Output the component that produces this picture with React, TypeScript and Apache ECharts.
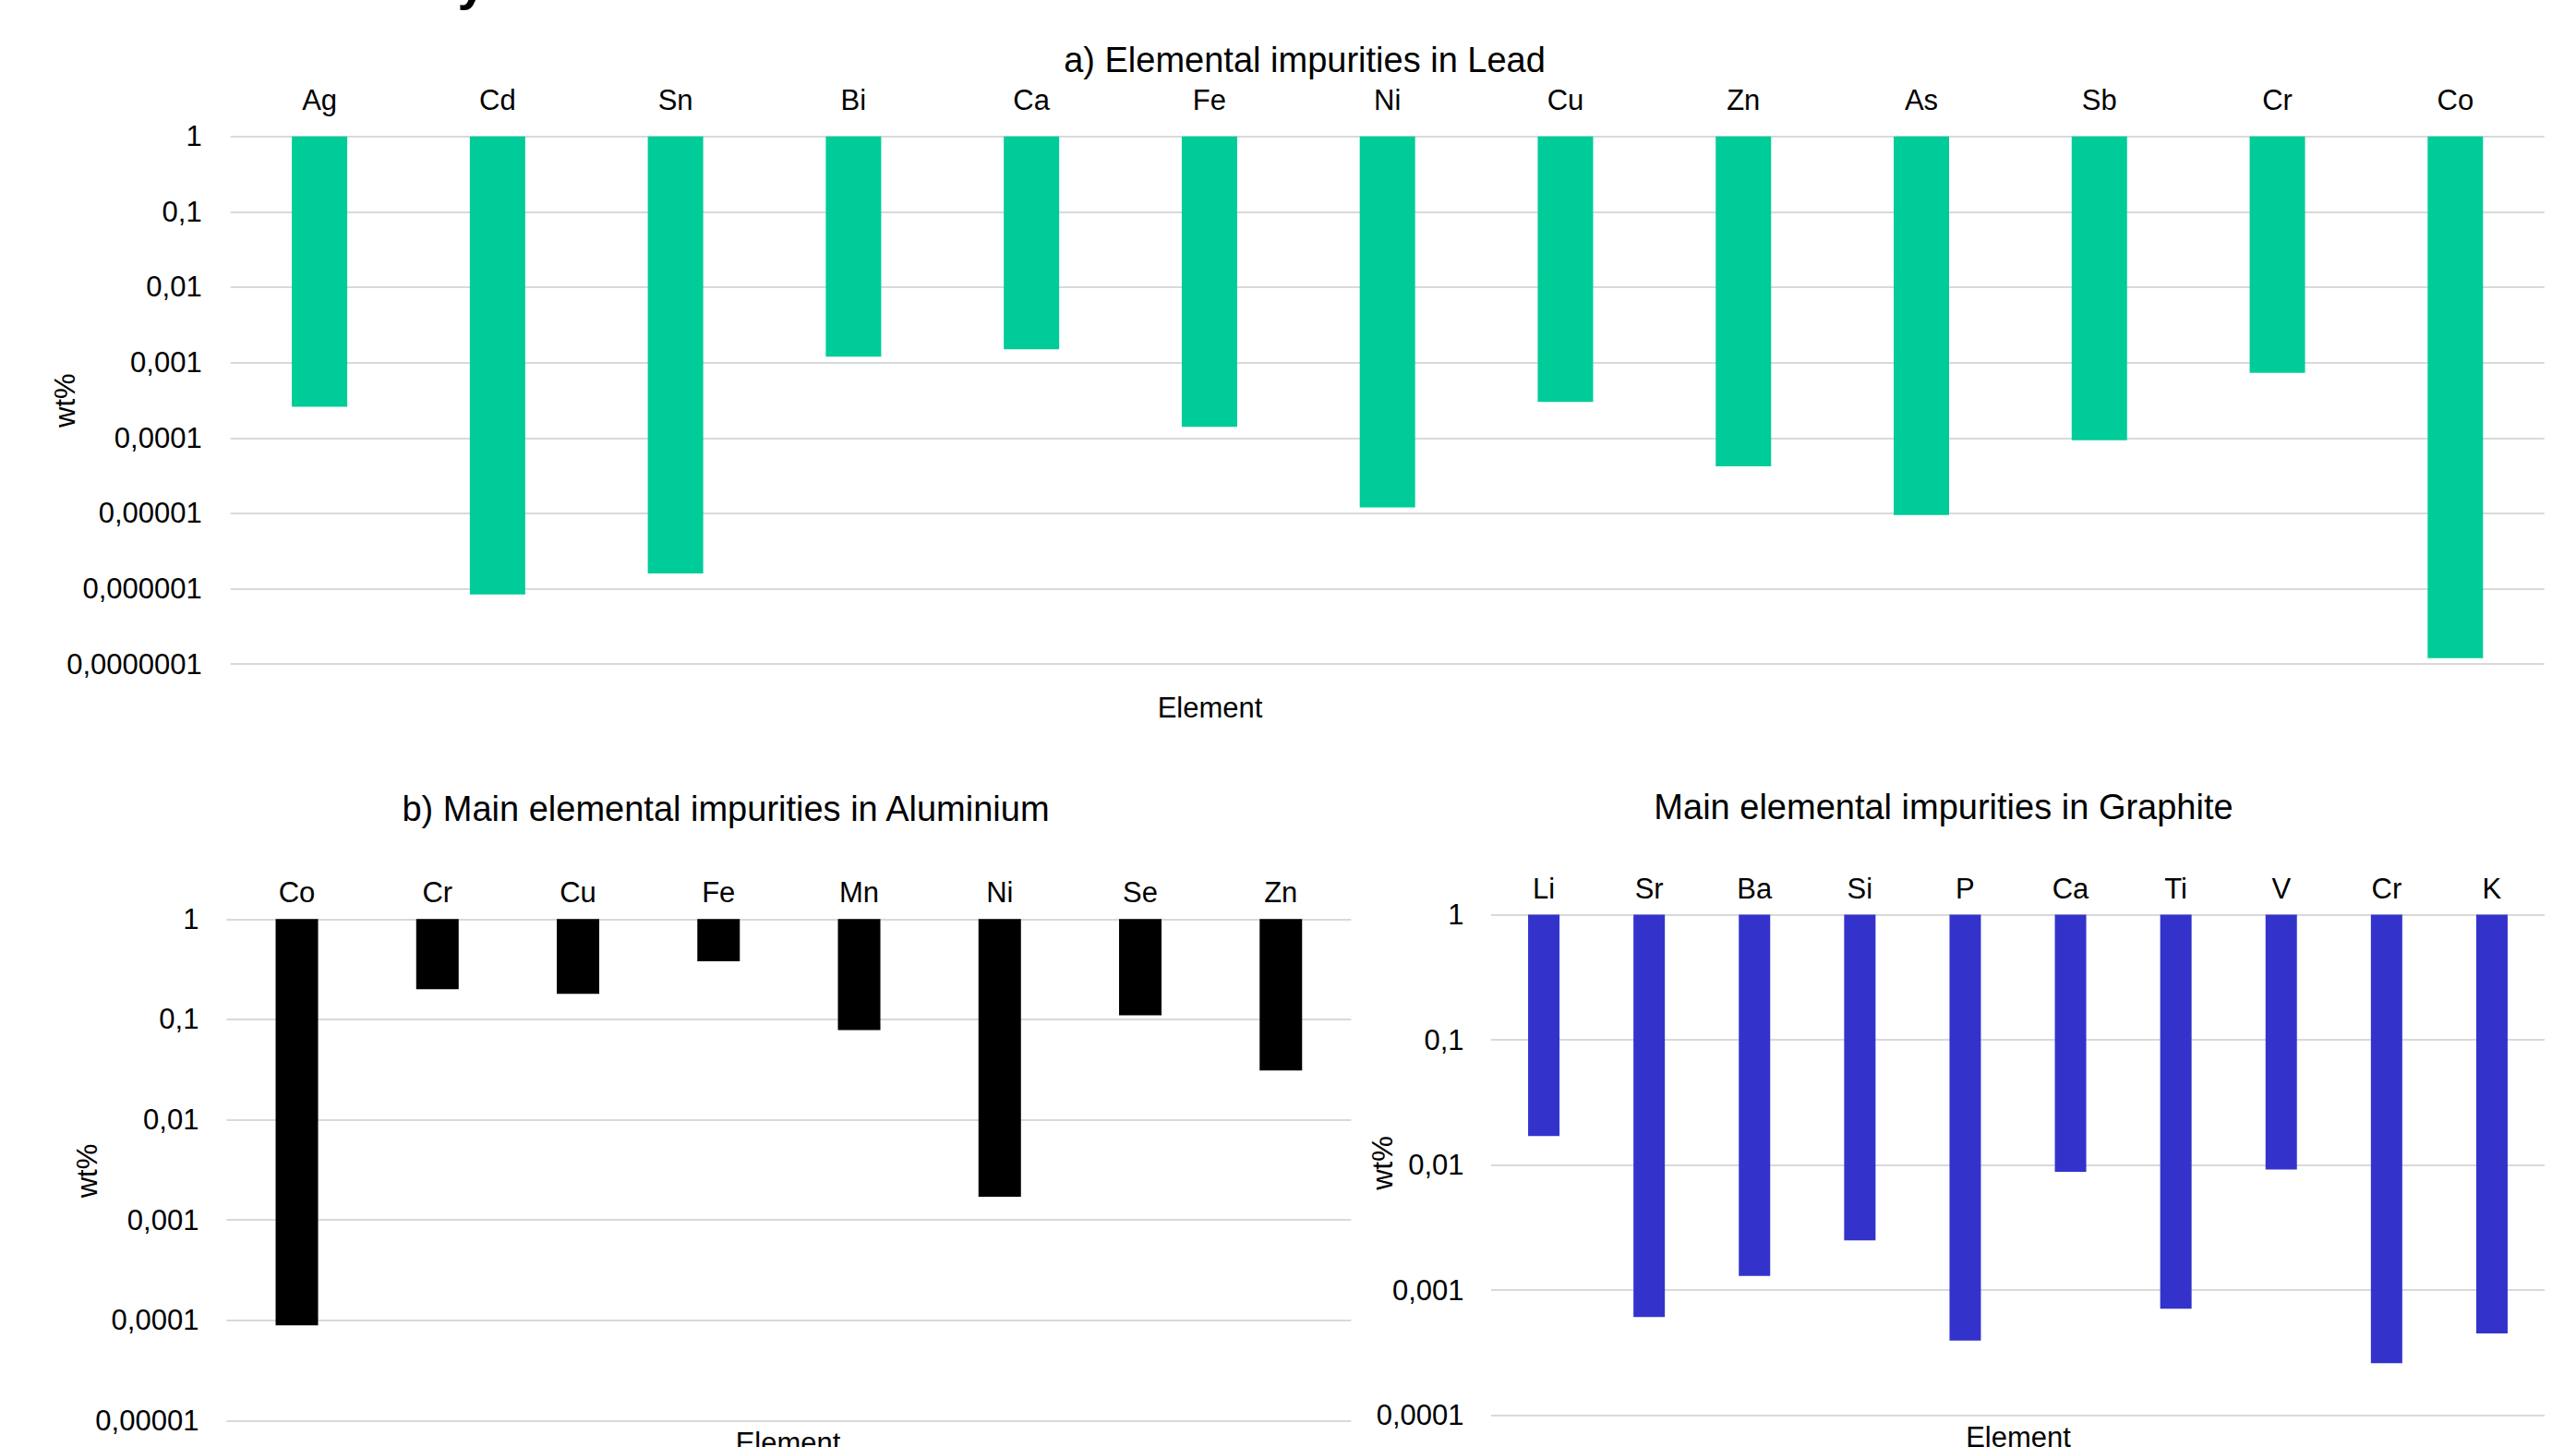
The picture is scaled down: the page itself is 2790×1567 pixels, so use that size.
import React, { useEffect, useRef } from "react";
import * as echarts from "echarts";

const leadElements = ["Ag", "Cd", "Sn", "Bi", "Ca", "Fe", "Ni", "Cu", "Zn", "As", "Sb", "Cr", "Co"];
const leadValues = [2.6e-4, 8.4e-7, 1.6e-6, 1.2e-3, 1.5e-3, 1.4e-4, 1.2e-5, 3.0e-4, 4.2e-5, 9.5e-6, 9.3e-5, 7.3e-4, 1.2e-7];

const aluminiumElements = ["Co", "Cr", "Cu", "Fe", "Mn", "Ni", "Se", "Zn"];
const aluminiumValues = [8.9e-5, 0.2, 0.18, 0.38, 0.078, 1.7e-3, 0.11, 0.031];

const graphiteElements = ["Li", "Sr", "Ba", "Si", "P", "Ca", "Ti", "V", "Cr", "K"];
const graphiteValues = [0.017, 6.1e-4, 1.3e-3, 2.5e-3, 3.95e-4, 8.8e-3, 7.1e-4, 9.2e-3, 2.6e-4, 4.5e-4];

const titles = [
  "a) Elemental impurities in Lead",
  "b) Main elemental impurities in Aluminium",
  "Main elemental impurities in Graphite",
];
const xAxisName = "Element";
const yAxisName = "wt%";

const FONT = "'Liberation Sans', Arial, Helvetica, sans-serif";

const fmt = (v: number) => {
  const n = Math.round(Math.log10(v));
  if (n >= 0) return String(Math.round(v));
  return "0," + "0".repeat(-n - 1) + "1";
};

const txt = (text: string, x: number, y: number, size: number, extra: any = {}) => ({
  type: "text",
  x,
  y,
  rotation: extra.rotation || 0,
  silent: true,
  style: {
    text,
    fontSize: size,
    fontFamily: FONT,
    fontWeight: extra.bold ? "bold" : "normal",
    fill: "#000",
    align: "center",
    verticalAlign: "middle",
    textAlign: "center",
    textVerticalAlign: "middle",
  },
});

export default function App() {
  const ref = useRef<HTMLDivElement>(null);
  useEffect(() => {
    if (!ref.current) return;
    const chart = echarts.init(ref.current, null, { renderer: "svg" });
    const grids = [
      { left: 249.7, top: 147.7, width: 2506, height: 571.5 },
      { left: 245.4, top: 995.3, width: 1218, height: 543 },
      { left: 1615, top: 990.6, width: 1141, height: 542 },
    ];
    const cats = [leadElements, aluminiumElements, graphiteElements];
    const vals = [leadValues, aluminiumValues, graphiteValues];
    const mins = [1e-7, 1e-5, 1e-4];
    const colors = ["#00CC99", "#000000", "#3333CC"];
    const barWidths = [60, 46, 34];
    const labelMargins = [24, 13, 13];
    const ylabMargins = [31, 30, 29.5];

    chart.setOption({
      animation: false,
      backgroundColor: "#ffffff",
      textStyle: { fontFamily: FONT },
      grid: grids.map((g) => ({ ...g, containLabel: false })),
      xAxis: cats.map((c, i) => ({
        type: "category",
        gridIndex: i,
        data: c,
        position: "top",
        axisLine: { show: false },
        axisTick: { show: false },
        splitLine: { show: false },
        axisLabel: { fontSize: 31, color: "#000", fontFamily: FONT, margin: labelMargins[i], interval: 0 },
      })),
      yAxis: mins.map((m, i) => ({
        type: "log",
        logBase: 10,
        gridIndex: i,
        min: m,
        max: 1,
        axisLine: { show: false },
        axisTick: { show: false },
        splitLine: { show: true, lineStyle: { color: "#D9D9D9", width: 2 } },
        axisLabel: { fontSize: 31, color: "#000", fontFamily: FONT, margin: ylabMargins[i], formatter: fmt },
      })),
      series: vals.map((v, i) => ({
        type: "bar",
        xAxisIndex: i,
        yAxisIndex: i,
        data: v,
        barWidth: barWidths[i],
        itemStyle: { color: colors[i] },
      })),
      graphic: [
        txt("y", 511, -21, 56, { bold: true }),
        txt(titles[0], 1413, 65, 38),
        txt(titles[1], 786, 876, 38),
        txt(titles[2], 2105, 874, 38),
        txt(xAxisName, 1310.5, 766.5, 31),
        txt(xAxisName, 853.5, 1562, 31),
        txt(xAxisName, 2186, 1556, 31),
        txt(yAxisName, 70, 433.7, 31, { rotation: Math.PI / 2 }),
        txt(yAxisName, 94.5, 1268, 31, { rotation: Math.PI / 2 }),
        txt(yAxisName, 1497, 1259.5, 31, { rotation: Math.PI / 2 }),
      ],
    });
    return () => chart.dispose();
  }, []);
  return (
    <div
      ref={ref}
      style={{ position: "fixed", left: 0, top: 0, width: 2790, height: 1567, background: "#fff" }}
    />
  );
}
